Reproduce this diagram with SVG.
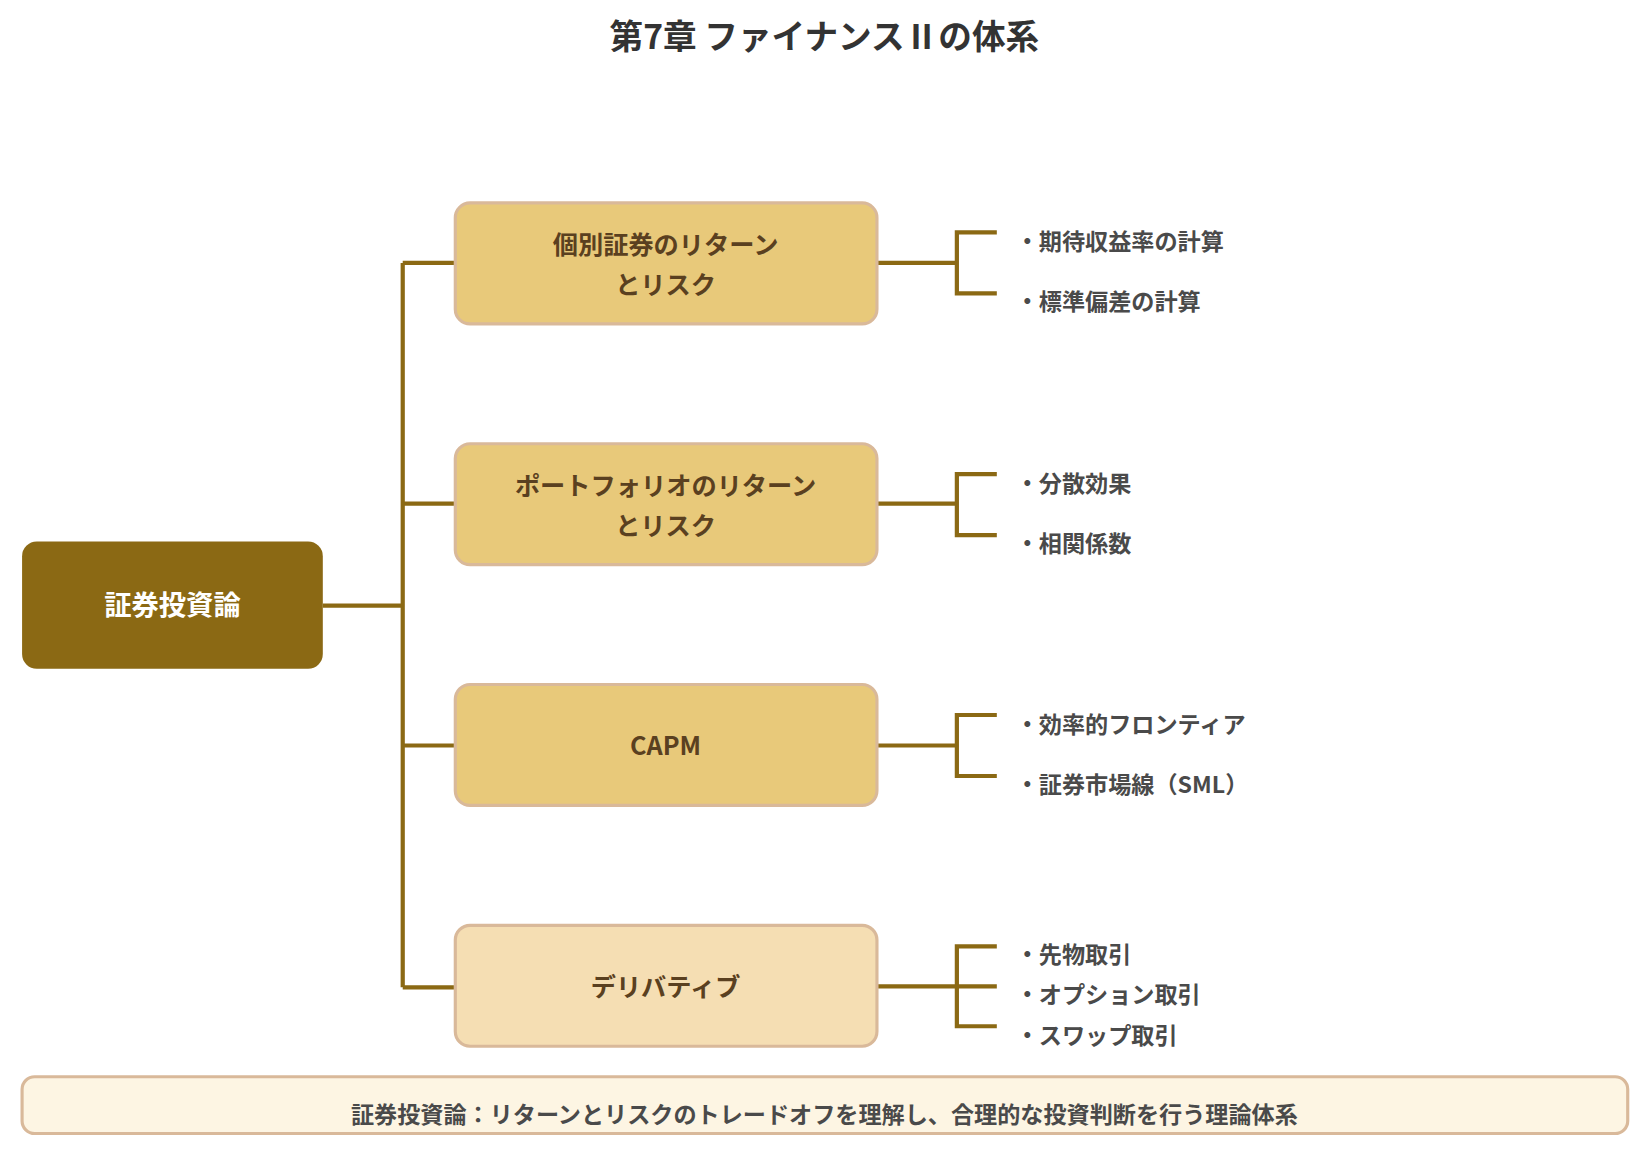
<svg xmlns="http://www.w3.org/2000/svg" width="1643" height="1150" viewBox="0 0 1643 1150">
<style>
text{font-family:"Noto Sans CJK JP","Noto Sans",sans-serif;font-weight:bold}
.c{fill:#e8c97a;stroke:#d9b99a;stroke-width:3}
.ct{font-size:24px;fill:#5a4020;text-anchor:middle}
.lf{font-size:22px;fill:#4a4a4a}
.ln{fill:none;stroke:#8b6914;stroke-width:4}
</style>
<rect width="1643" height="1150" fill="#fff"/>
<g transform="scale(1.0515)">
<text x="784" y="47" font-size="32" fill="#333" text-anchor="middle">第7章 ファイナンスⅡの体系</text>
<g id="connectors">
<path class="ln" d="M307 576H383M383 250V939M383 250H433M383 479H433M383 709H433M383 939H433"/>
<path class="ln" d="M834 250H910M948 221H910V279H948"/>
<path class="ln" d="M834 479H910M948 451H910V509H948"/>
<path class="ln" d="M834 709H910M948 680H910V738H948"/>
<path class="ln" d="M834 938H910M948 900H910V976H948M910 938H948"/>
</g>
<g id="root"><rect x="21" y="515" width="286" height="121" rx="14" fill="#8b6914"/><text x="164" y="585" font-size="26" fill="#fff" text-anchor="middle">証券投資論</text></g>
<g id="n1"><rect class="c" x="433" y="193" width="401" height="115" rx="14"/><text class="ct" x="633" y="242">個別証券のリターン</text><text class="ct" x="633" y="280">とリスク</text></g>
<g id="n2"><rect class="c" x="433" y="422" width="401" height="115" rx="14"/><text class="ct" x="633" y="471">ポートフォリオのリターン</text><text class="ct" x="633" y="509">とリスク</text></g>
<g id="n3"><rect class="c" x="433" y="651" width="401" height="115" rx="14"/><text class="ct" x="633" y="718">CAPM</text></g>
<g id="n4"><rect class="c" x="433" y="880" width="401" height="115" rx="14" style="fill:#f5deb3"/><text class="ct" x="633" y="947">デリバティブ</text></g>
<g id="leaves">
<text class="lf" x="966" y="238">・期待収益率の計算</text>
<text class="lf" x="966" y="295">・標準偏差の計算</text>
<text class="lf" x="966" y="468">・分散効果</text>
<text class="lf" x="966" y="525">・相関係数</text>
<text class="lf" x="966" y="697">・効率的フロンティア</text>
<text class="lf" x="966" y="754">・証券市場線（SML）</text>
<text class="lf" x="966" y="916">・先物取引</text>
<text class="lf" x="966" y="954">・オプション取引</text>
<text class="lf" x="966" y="993">・スワップ取引</text>
</g>
<g id="note"><rect x="21" y="1024" width="1527" height="54" rx="12" fill="#fdf5e3" stroke="#d9b99a" stroke-width="3"/><text x="784" y="1068" font-size="22" fill="#4a4a4a" text-anchor="middle">証券投資論：リターンとリスクのトレードオフを理解し、合理的な投資判断を行う理論体系</text></g>
</g>
</svg>
